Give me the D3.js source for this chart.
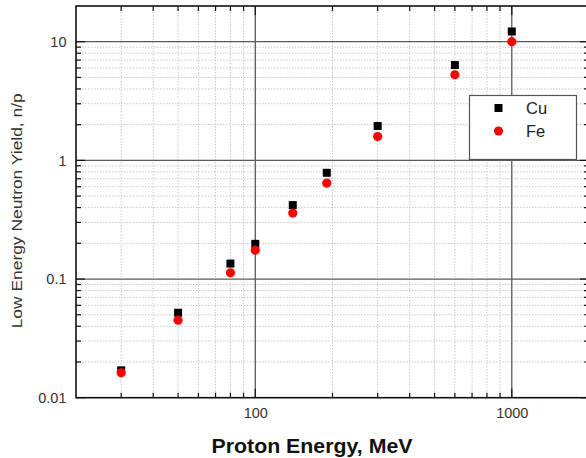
<!DOCTYPE html>
<html>
<head>
<meta charset="utf-8">
<script src="https://cdn.jsdelivr.net/npm/d3@7"></script>
<style>
  html, body { margin: 0; padding: 0; background: #fff; }
  svg { display: block; font-family: "Liberation Sans", Arial, sans-serif; }
</style>
</head>
<body>
<svg id="chart" width="586" height="458"></svg>
<script>
// Proton beam energies (MeV)
const energies = [30, 50, 80, 100, 140, 190, 300, 600, 1000];
// Low energy neutron yield per proton
const cuYield = [0.017, 0.052, 0.135, 0.198, 0.42, 0.786, 1.95, 6.36, 12.2];
const feYield = [0.0162, 0.045, 0.113, 0.175, 0.36, 0.644, 1.59, 5.27, 10.0];
const xTickLabels = [100, 1000];
const yTickLabels = [0.01, 0.1, 1, 10];
const seriesNames = ["Cu", "Fe"];

const svg = d3.select("#chart");
const plotL = 76, plotR = 589, plotT = 6, plotB = 397.7;

const x = d3.scaleLog().domain([20, 2000]).range([plotL, plotR]);
const y = d3.scaleLog().domain([0.01, 20]).range([plotB, plotT]);

// minor positions per decade
const xMinor = [];
for (let d = 10; d <= 1000; d *= 10) for (let k = 2; k <= 9; k++) {
  const v = k * d; if (v > 20 && v < 2000 && !xTickLabels.includes(v)) xMinor.push(v);
}
const yMinor = [];
for (let d = 0.01; d <= 10; d *= 10) for (let k = 2; k <= 9; k++) {
  const v = +(k * d).toPrecision(3); if (v > 0.01 && v < 20) yMinor.push(v);
}

const grid = svg.append("g");
grid.selectAll(".xm").data(xMinor).join("line")
  .attr("x1", d => x(d)).attr("x2", d => x(d)).attr("y1", plotT).attr("y2", plotB)
  .attr("stroke", "#c8c8c8").attr("stroke-width", 1).attr("stroke-dasharray", "1.5,1.5");
grid.selectAll(".ym").data(yMinor).join("line")
  .attr("y1", d => y(d)).attr("y2", d => y(d)).attr("x1", plotL).attr("x2", plotR)
  .attr("stroke", "#c8c8c8").attr("stroke-width", 1).attr("stroke-dasharray", "1.5,1.5");
grid.selectAll(".xM").data(xTickLabels).join("line")
  .attr("x1", d => x(d)).attr("x2", d => x(d)).attr("y1", plotT).attr("y2", plotB)
  .attr("stroke", "#5a5a5a").attr("stroke-width", 1.3);
grid.selectAll(".yM").data(yTickLabels.filter(v => v > 0.01)).join("line")
  .attr("y1", d => y(d)).attr("y2", d => y(d)).attr("x1", plotL).attr("x2", plotR)
  .attr("stroke", "#5a5a5a").attr("stroke-width", 1.3);

// axis labels (tick marks drawn inward below)
const fmt = d => String(d);
const axisBottom = d3.axisBottom(x).tickValues(xTickLabels).tickFormat(fmt).tickSize(0).tickPadding(10.5);
const axisLeft = d3.axisLeft(y).tickValues(yTickLabels).tickFormat(fmt).tickSize(0).tickPadding(9.5);

const gx = svg.append("g").attr("transform", `translate(0,${plotB})`).call(axisBottom);
const gy = svg.append("g").attr("transform", `translate(${plotL},0)`).call(axisLeft);
[gx, gy].forEach(g => {
  g.select(".domain").remove();
  g.selectAll("text").attr("font-size", 14.5).attr("fill", "#333")
    .attr("font-family", "Liberation Sans, Arial, sans-serif");
});

const ticks = svg.append("g").attr("stroke", "#111").attr("stroke-width", 1.2);
ticks.selectAll(".tb").data(xMinor.concat(xTickLabels)).join("line")
  .attr("x1", d => x(d)).attr("x2", d => x(d))
  .attr("y1", plotB).attr("y2", d => plotB - (xTickLabels.includes(d) ? 9 : 5));
ticks.selectAll(".tt").data(xMinor.concat(xTickLabels)).join("line")
  .attr("x1", d => x(d)).attr("x2", d => x(d))
  .attr("y1", plotT).attr("y2", d => plotT + (xTickLabels.includes(d) ? 9 : 5));
ticks.selectAll(".tl").data(yMinor.concat(yTickLabels)).join("line")
  .attr("y1", d => y(d)).attr("y2", d => y(d))
  .attr("x1", plotL).attr("x2", d => plotL + (yTickLabels.includes(d) ? 9 : 5));
ticks.selectAll(".tr").data(yMinor.concat(yTickLabels)).join("line")
  .attr("y1", d => y(d)).attr("y2", d => y(d))
  .attr("x1", plotR).attr("x2", d => plotR - (yTickLabels.includes(d) ? 9 : 5));

// frame
svg.append("rect").attr("x", plotL).attr("y", plotT)
  .attr("width", plotR - plotL).attr("height", plotB - plotT)
  .attr("fill", "none").attr("stroke", "#111").attr("stroke-width", 1.6);

// data markers
const cu = energies.map((e, i) => ({ e, v: cuYield[i] }));
const fe = energies.map((e, i) => ({ e, v: feYield[i] }));
svg.append("g").selectAll("rect").data(cu).join("rect")
  .attr("x", d => x(d.e) - 4).attr("y", d => y(d.v) - 4)
  .attr("width", 8).attr("height", 8).attr("fill", "#000");
svg.append("g").selectAll("circle").data(fe).join("circle")
  .attr("cx", d => x(d.e)).attr("cy", d => y(d.v)).attr("r", 4.6)
  .attr("fill", "#ff0000");

// legend
const lg = svg.append("g");
lg.append("rect").attr("x", 469.5).attr("y", 95.5).attr("width", 107).attr("height", 64)
  .attr("fill", "#fff").attr("stroke", "#555").attr("stroke-width", 1.2);
lg.append("rect").attr("x", 494.5).attr("y", 104).attr("width", 8).attr("height", 8).attr("fill", "#000");
lg.append("circle").attr("cx", 498.5).attr("cy", 131).attr("r", 4.6).attr("fill", "#ff0000");
lg.selectAll("text").data(seriesNames).join("text")
  .attr("x", 526).attr("y", (d, i) => 114.3 + i * 22.4)
  .attr("font-size", 16.5).attr("fill", "#222").text(d => d);

// axis titles
svg.append("text").attr("x", 312).attr("y", 452.7).attr("text-anchor", "middle")
  .attr("font-size", 20).attr("font-weight", "bold").attr("fill", "#111")
  .attr("textLength", 201).attr("lengthAdjust", "spacingAndGlyphs")
  .text("Proton Energy, MeV");
svg.append("text").attr("transform", "translate(22,210.8) rotate(-90)")
  .attr("text-anchor", "middle").attr("font-size", 14.5).attr("fill", "#333")
  .attr("textLength", 235).attr("lengthAdjust", "spacingAndGlyphs")
  .text("Low Energy Neutron Yield, n/p");
</script>
</body>
</html>
